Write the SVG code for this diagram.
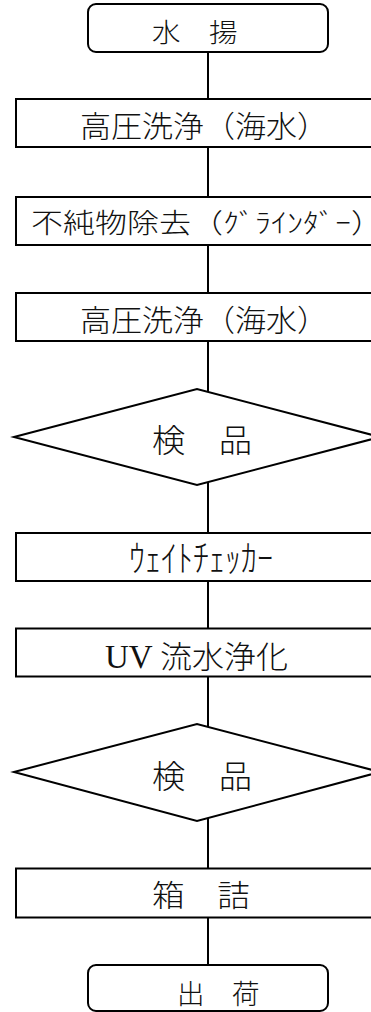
<svg xmlns="http://www.w3.org/2000/svg" width="371" height="1012" viewBox="0 0 371 1012">
<style>
.shape{fill:#fff;stroke:#000;stroke-width:2}
.conn{stroke:#000;stroke-width:2;fill:none}
.t{font-family:"Noto Sans CJK JP","Noto Sans CJK SC",sans-serif;font-weight:300;fill:#111}
</style>
<rect width="371" height="1012" fill="#fff"/>
<g id="connectors">
<line class="conn" x1="208" y1="52" x2="208" y2="99"/>
<line class="conn" x1="208" y1="147" x2="208" y2="197"/>
<line class="conn" x1="208" y1="245" x2="208" y2="293"/>
<line class="conn" x1="208" y1="341" x2="208" y2="392"/>
<line class="conn" x1="208" y1="482" x2="208" y2="533"/>
<line class="conn" x1="208" y1="581" x2="208" y2="628.5"/>
<line class="conn" x1="208" y1="676.5" x2="208" y2="727"/>
<line class="conn" x1="208" y1="818" x2="208" y2="868.5"/>
<line class="conn" x1="208" y1="917.5" x2="208" y2="965"/>
</g>
<g id="n1">
<rect class="shape" x="88" y="4" width="240" height="48" rx="8"/>
<text class="t" x="152" y="42" font-size="26" textLength="85.5" lengthAdjust="spacingAndGlyphs">水　揚</text>
</g>
<g id="n2">
<rect class="shape" x="16" y="99" width="384" height="48"/>
<text class="t" x="80" y="137" font-size="30" textLength="248" lengthAdjust="spacingAndGlyphs">高圧洗浄（海水）</text>
</g>
<g id="n3">
<rect class="shape" x="16" y="197" width="384" height="48"/>
<text class="t" x="31" y="233" font-size="27" textLength="352" lengthAdjust="spacingAndGlyphs">不純物除去（ｸﾞﾗｲﾝﾀﾞｰ）</text>
</g>
<g id="n4">
<rect class="shape" x="16" y="293" width="384" height="48"/>
<text class="t" x="80" y="331" font-size="30" textLength="248" lengthAdjust="spacingAndGlyphs">高圧洗浄（海水）</text>
</g>
<g id="n5">
<polygon class="shape" points="14,437 197,389 380,437 197,485"/>
<text class="t" x="152" y="452" font-size="32" textLength="100" lengthAdjust="spacingAndGlyphs">検　品</text>
</g>
<g id="n6">
<rect class="shape" x="16" y="533" width="384" height="48"/>
<text class="t" x="129" y="572" font-size="37" textLength="144" lengthAdjust="spacingAndGlyphs">ｳｪｲﾄﾁｪｯｶｰ</text>
</g>
<g id="n7">
<rect class="shape" x="16" y="628.5" width="384" height="48"/>
<text class="t" x="105" y="668"><tspan font-family="Liberation Serif,serif" font-weight="400" font-size="33">UV </tspan><tspan font-size="31" x="160" textLength="128" lengthAdjust="spacingAndGlyphs">流水浄化</tspan></text>
</g>
<g id="n8">
<polygon class="shape" points="14,772 197,724 380,772 197,821"/>
<text class="t" x="152" y="788" font-size="32" textLength="100" lengthAdjust="spacingAndGlyphs">検　品</text>
</g>
<g id="n9">
<rect class="shape" x="16" y="868.5" width="384" height="49"/>
<text class="t" x="152" y="906" font-size="30" textLength="98" lengthAdjust="spacingAndGlyphs">箱　詰</text>
</g>
<g id="n10">
<rect class="shape" x="88" y="965" width="240" height="46" rx="8"/>
<text class="t" x="177" y="1004" font-size="27" textLength="82.5" lengthAdjust="spacingAndGlyphs">出　荷</text>
</g>
</svg>
